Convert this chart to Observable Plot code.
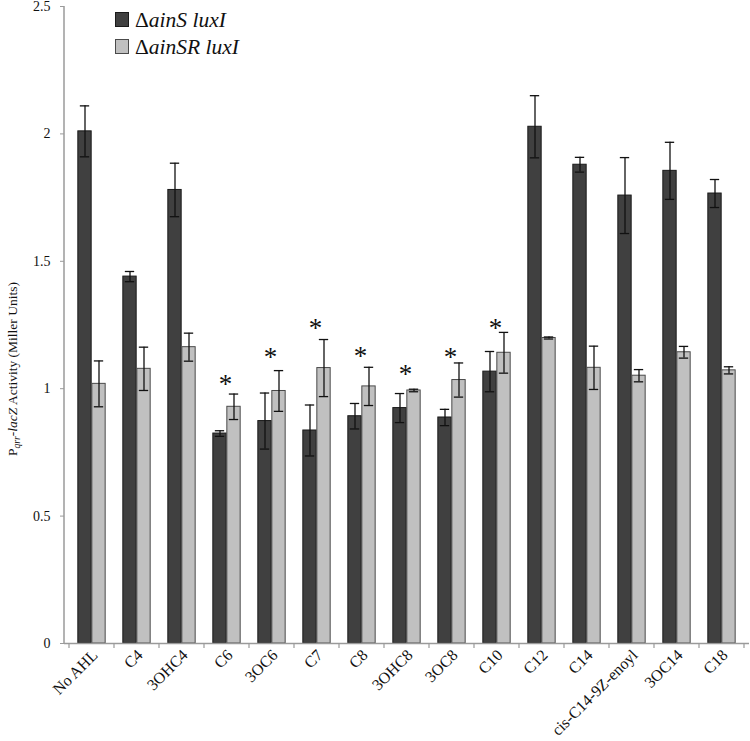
<!DOCTYPE html>
<html><head><meta charset="utf-8">
<script src="https://cdn.jsdelivr.net/npm/d3@7"></script>
<script src="https://cdn.jsdelivr.net/npm/@observablehq/plot@0.6"></script>
<style>body{margin:0;background:#fff} svg{display:block}</style>
</head><body><div id="chart"></div>
<script>
const categories = ["No AHL","C4","3OHC4","C6","3OC6","C7","C8","3OHC8","3OC8","C10","C12","C14","cis-C14-9Z-enoyl","3OC14","C18"];
const seriesNames = ["ainS luxI","ainSR luxI"];
const ainS     = [2.01, 1.44, 1.78, 0.824, 0.873, 0.836, 0.892, 0.924, 0.887, 1.067, 2.028, 1.879, 1.758, 1.855, 1.766];
const ainSErr  = [0.10, 0.02, 0.105, 0.011, 0.11, 0.10, 0.05, 0.057, 0.032, 0.079, 0.122, 0.029, 0.149, 0.112, 0.055];
const ainSR    = [1.019, 1.078, 1.163, 0.929, 0.991, 1.081, 1.009, 0.993, 1.034, 1.141, 1.199, 1.082, 1.051, 1.143, 1.072];
const ainSRErr = [0.09, 0.085, 0.055, 0.05, 0.08, 0.112, 0.075, 0.005, 0.067, 0.08, 0.004, 0.085, 0.024, 0.023, 0.014];
const starCats = ["C6","3OC6","C7","C8","3OHC8","3OC8","C10"];
const starY    = [1.035, 1.143, 1.255, 1.147, 1.076, 1.143, 1.257];
const yTicks   = [0, 0.5, 1, 1.5, 2, 2.5];

const W = 750, H = 741, mL = 64, mR = 1, mT = 6, mB = 98;
const BW = (W - mL - mR) / categories.length;
const barW = 14, capW = 10;
const darkFill = "#404040", lightFill = "#c0c0c0";
const font = "'Liberation Serif', 'Times New Roman', serif";

const rows = categories.map((c, i) => ({cat: c, a: ainS[i], ae: ainSErr[i], r: ainSR[i], re: ainSRErr[i]}));

const capsDark = {insetLeft: BW/2 - barW/2 - capW/2, insetRight: BW/2 + barW/2 - capW/2};
const capsLight = {insetLeft: BW/2 + barW/2 - capW/2, insetRight: BW/2 - barW/2 - capW/2};
const errStyle = {stroke: "#111", strokeWidth: 1.3};

const plot = Plot.plot({
  width: W, height: H,
  marginLeft: mL, marginRight: mR, marginTop: mT, marginBottom: mB,
  style: {fontFamily: font, fontSize: "15px", background: "#fff", color: "#111"},
  x: {type: "band", domain: categories, padding: 0, label: null},
  y: {domain: [0, 2.5], label: null},
  marks: [
    Plot.barY(rows, {x: "cat", y: "a", fill: darkFill, stroke: "#1a1a1a", strokeWidth: 1, insetLeft: BW/2 - barW, insetRight: BW/2}),
    Plot.barY(rows, {x: "cat", y: "r", fill: lightFill, stroke: "#4a4a4a", strokeWidth: 1, insetLeft: BW/2, insetRight: BW/2 - barW}),
    Plot.ruleX(rows, {x: "cat", y1: d => d.a - d.ae, y2: d => d.a + d.ae, dx: -barW/2, ...errStyle}),
    Plot.tickY(rows, {x: "cat", y: d => d.a + d.ae, ...capsDark, ...errStyle}),
    Plot.tickY(rows, {x: "cat", y: d => d.a - d.ae, ...capsDark, ...errStyle}),
    Plot.ruleX(rows, {x: "cat", y1: d => d.r - d.re, y2: d => d.r + d.re, dx: barW/2, ...errStyle}),
    Plot.tickY(rows, {x: "cat", y: d => d.r + d.re, ...capsLight, ...errStyle}),
    Plot.tickY(rows, {x: "cat", y: d => d.r - d.re, ...capsLight, ...errStyle}),
    Plot.text(starCats, {x: d => d, y: (d, i) => starY[i], text: () => "*", fontSize: 27, fill: "#111", dx: -1.5, dy: 5}),
    Plot.ruleY([0], {stroke: "#9a9a9a", strokeWidth: 1.5}),
    Plot.axisY({ticks: yTicks, tickSize: 4, tickPadding: 10, stroke: "#9a9a9a", fill: "#111", fontSize: 14, label: null, tickFormat: d => String(d)}),
    Plot.axisX({tickRotate: -45, tickSize: 0, tickPadding: 9, fill: "#111", fontSize: 16, dx: 3, label: null})
  ]
});

const svg = d3.select(plot);
const sx = plot.scale("x"), sy = plot.scale("y");
const y0 = sy.apply(0);
// y axis line
svg.append("line").attr("x1", mL).attr("x2", mL).attr("y1", sy.apply(2.5)).attr("y2", y0)
  .attr("stroke", "#9a9a9a").attr("stroke-width", 1.5);
// category boundary ticks
for (let i = 0; i <= categories.length; i++) {
  const x = i < categories.length ? sx.apply(categories[i]) : sx.apply(categories[i-1]) + sx.bandwidth;
  svg.append("line").attr("x1", x).attr("x2", x).attr("y1", y0).attr("y2", y0 + 5)
    .attr("stroke", "#9a9a9a").attr("stroke-width", 1.2);
}
// y label
const yl = svg.append("text")
  .attr("transform", `translate(17,369) rotate(-90)`)
  .attr("text-anchor", "middle").attr("font-family", font).attr("font-size", 13.5).attr("fill", "#111");
yl.append("tspan").text("P");
yl.append("tspan").attr("font-style", "italic").attr("font-size", 9.5).attr("dy", 3).text("qrr");
yl.append("tspan").attr("dy", -3).text("-");
yl.append("tspan").attr("font-style", "italic").text("lacZ");
yl.append("tspan").text(" Activity (Miller Units)");
// legend
const legendFills = [darkFill, lightFill];
const legendStroke = ["#1a1a1a", "#4a4a4a"];
seriesNames.forEach((name, i) => {
  const yy = 12 + i * 27;
  svg.append("rect").attr("x", 115.5).attr("y", yy + 0.5).attr("width", 13).attr("height", 14)
    .attr("fill", legendFills[i]).attr("stroke", legendStroke[i]).attr("stroke-width", 1);
  const t = svg.append("text").attr("x", 135).attr("y", yy + 14.5).attr("text-anchor", "start")
    .attr("font-family", font).attr("font-size", 21.5).attr("fill", "#111");
  t.append("tspan").text("\u0394");
  t.append("tspan").attr("font-style", "italic").text(name);
});

document.getElementById("chart").appendChild(plot);
</script>
</body></html>
